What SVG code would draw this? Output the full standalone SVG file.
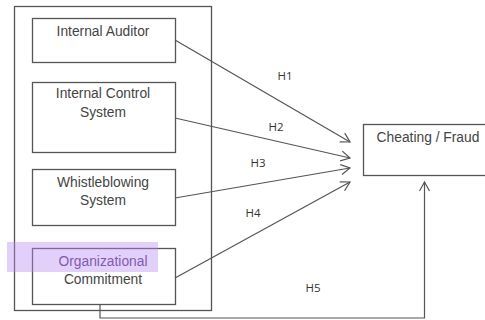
<svg xmlns="http://www.w3.org/2000/svg" width="485" height="320" viewBox="0 0 485 320">
<style>
.box{fill:#fff;stroke:#555;stroke-width:1.3}
.t{font-family:"Liberation Sans",Arial,sans-serif;font-size:13.8px;fill:#444;text-anchor:middle}
.h{font-family:"Open Sans","Liberation Sans",sans-serif;font-size:11.5px;fill:#333;text-anchor:middle}
.c{fill:none;stroke:#555;stroke-width:1.2}
</style>
<defs>
<marker id="arr" markerWidth="12" markerHeight="12" refX="10" refY="6" orient="auto" markerUnits="userSpaceOnUse">
<path d="M1,1 L10,6 L1,11" fill="none" stroke="#555" stroke-width="1.2"/>
</marker>
</defs>
<rect width="485" height="320" fill="#fff"/>
<g id="container"><rect class="box" x="14.5" y="6.5" width="197" height="304"/></g>
<g id="internal-auditor"><rect class="box" x="32.5" y="18.5" width="143" height="44"/><text class="t" x="103" y="36">Internal Auditor</text></g>
<g id="internal-control"><rect class="box" x="32.5" y="82.5" width="143" height="70"/><text class="t" x="103" y="98">Internal Control</text><text class="t" x="103" y="117">System</text></g>
<g id="whistleblowing"><rect class="box" x="32.5" y="169.5" width="143" height="56"/><text class="t" x="103" y="187">Whistleblowing</text><text class="t" x="103" y="205">System</text></g>
<g id="commitment"><rect class="box" x="32.5" y="248.5" width="143" height="56"/><text class="t" x="103" y="266" style="fill:#5a3a80">Organizational</text><text class="t" x="103" y="284">Commitment</text><rect x="7" y="242" width="151" height="30" fill="#b98af2" opacity="0.4"/></g>
<g id="cheating"><rect class="box" x="363.5" y="124.5" width="130" height="51"/><text class="t" x="428" y="142">Cheating / Fraud</text></g>
<g id="connectors">
<line class="c" x1="175" y1="40" x2="350" y2="142" marker-end="url(#arr)"/>
<line class="c" x1="175" y1="118" x2="350" y2="158" marker-end="url(#arr)"/>
<line class="c" x1="175" y1="198" x2="350" y2="168" marker-end="url(#arr)"/>
<line class="c" x1="175" y1="278" x2="350" y2="182" marker-end="url(#arr)"/>
<polyline class="c" points="100,305 100,318 424.5,318 424.5,182" marker-end="url(#arr)"/>
<text class="h" x="285" y="80">H1</text>
<text class="h" x="276" y="131">H2</text>
<text class="h" x="258" y="167">H3</text>
<text class="h" x="253" y="217">H4</text>
<text class="h" x="313" y="292">H5</text>
</g>
</svg>
